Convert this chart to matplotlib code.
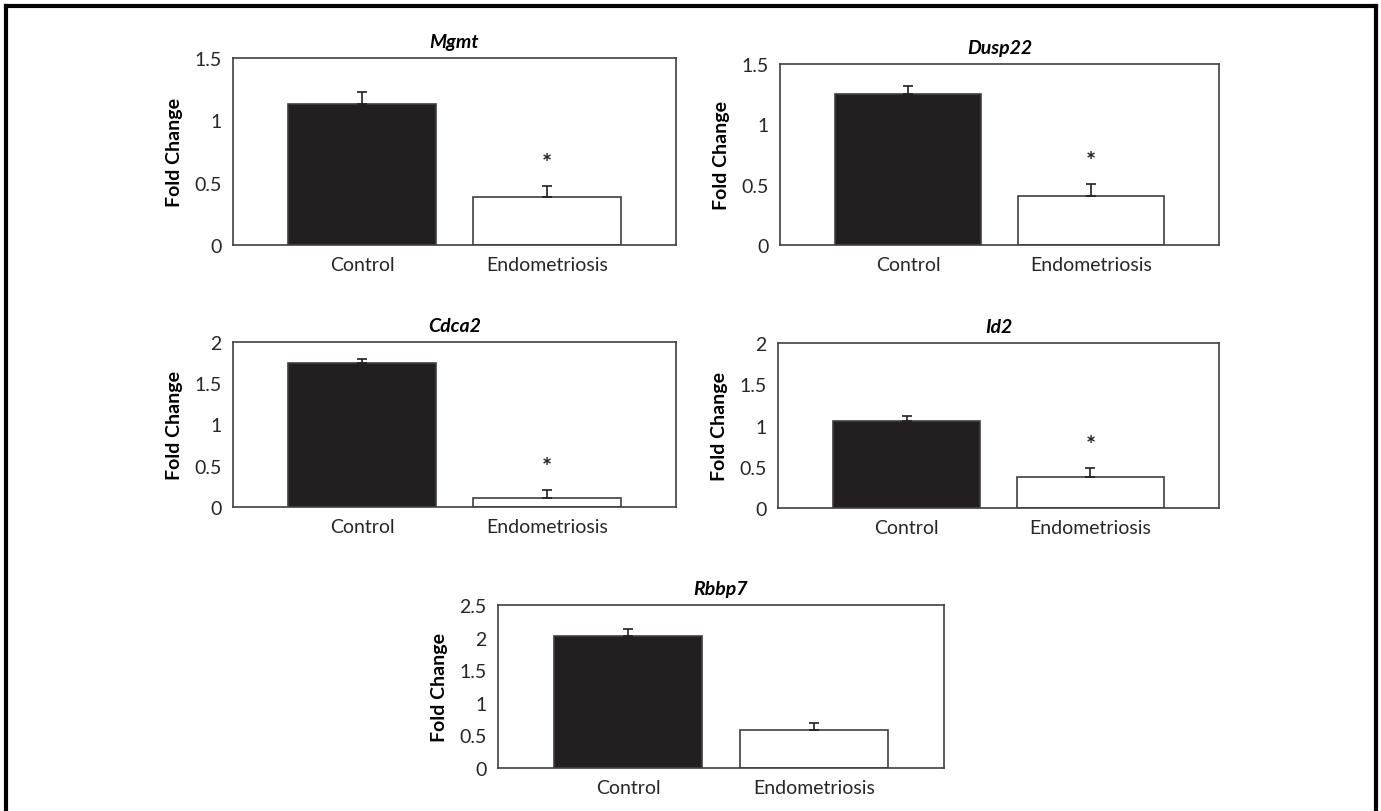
import matplotlib
matplotlib.use("Agg")
import matplotlib.pyplot as plt
from matplotlib.lines import Line2D

plt.rcParams["font.family"] = ["Lato", "DejaVu Sans"]

groups = ["Control", "Endometriosis"]
genes = ["Mgmt", "Dusp22", "Cdca2", "Id2", "Rbbp7"]
control_mean = [1.13, 1.25, 1.74, 1.06, 2.02]
control_err = [0.10, 0.07, 0.05, 0.05, 0.11]
endo_mean = [0.385, 0.405, 0.11, 0.38, 0.58]
endo_err = [0.085, 0.10, 0.10, 0.10, 0.11]
y_max = [1.5, 1.5, 2, 2, 2.5]
y_step = [0.5, 0.5, 0.5, 0.5, 0.5]
significant = [True, True, True, True, False]

W, H = 1381, 812
fig = plt.figure(figsize=(W / 100, H / 100), dpi=100)

# axes boxes in pixels: left, top, right, bottom
boxes = [(233, 59, 676, 246), (780, 65, 1219, 246),
         (233, 343, 676, 508), (778, 344, 1219, 509),
         (498, 606, 944, 769)]

axis_col = "#404040"
bar_col = "#231f20"

for i, gene in enumerate(genes):
    l, t, r, b = boxes[i]
    ax = fig.add_axes([l / W, 1 - b / H, (r - l) / W, (b - t) / H])
    x = [0, 1]
    means = [control_mean[i], endo_mean[i]]
    errs = [control_err[i], endo_err[i]]
    ax.bar(x, means, width=0.8, color=[bar_col, "white"], edgecolor=axis_col,
           linewidth=1.2, zorder=2)
    ax.errorbar(x, means, yerr=[[0, 0], errs], fmt="none", ecolor=bar_col,
                elinewidth=1.2, capsize=3.3, capthick=1.2, zorder=3)
    if significant[i]:
        ax.annotate("*", (1, endo_mean[i] + endo_err[i]), xytext=(0, 8),
                    textcoords="offset points", ha="center", va="bottom",
                    fontsize=17, fontweight="bold", color="#231f20")
    ax.set_xlim(-0.7, 1.7)
    ax.set_ylim(0, y_max[i])
    ticks = [k * y_step[i] for k in range(int(round(y_max[i] / y_step[i])) + 1)]
    ax.set_yticks(ticks)
    ax.set_yticklabels([f"{v:g}" for v in ticks])
    ax.set_xticks(x)
    ax.set_xticklabels(groups)
    ax.tick_params(axis="both", length=0, labelsize=14, colors="#262626")
    ax.tick_params(axis="y", pad=8)
    ax.tick_params(axis="x", pad=8)
    for s in ax.spines.values():
        s.set_color(axis_col)
        s.set_linewidth(1.2)
    ax.set_ylabel("Fold Change", fontsize=14, fontweight="bold", labelpad=8)
    ax.set_title(gene, fontsize=14, fontweight="bold", style="italic", pad=8)

# outer frame (open at the bottom)
lw = 3
fig.add_artist(Line2D([5.7 / W, 1375.7 / W], [1 - 7 / H, 1 - 7 / H],
                      transform=fig.transFigure, color="black", lw=lw))
fig.add_artist(Line2D([5.7 / W, 5.7 / W], [0, 1 - 7 / H],
                      transform=fig.transFigure, color="black", lw=lw))
fig.add_artist(Line2D([1375.7 / W, 1375.7 / W], [0, 1 - 7 / H],
                      transform=fig.transFigure, color="black", lw=lw))

fig.savefig("out.png", dpi=100)
